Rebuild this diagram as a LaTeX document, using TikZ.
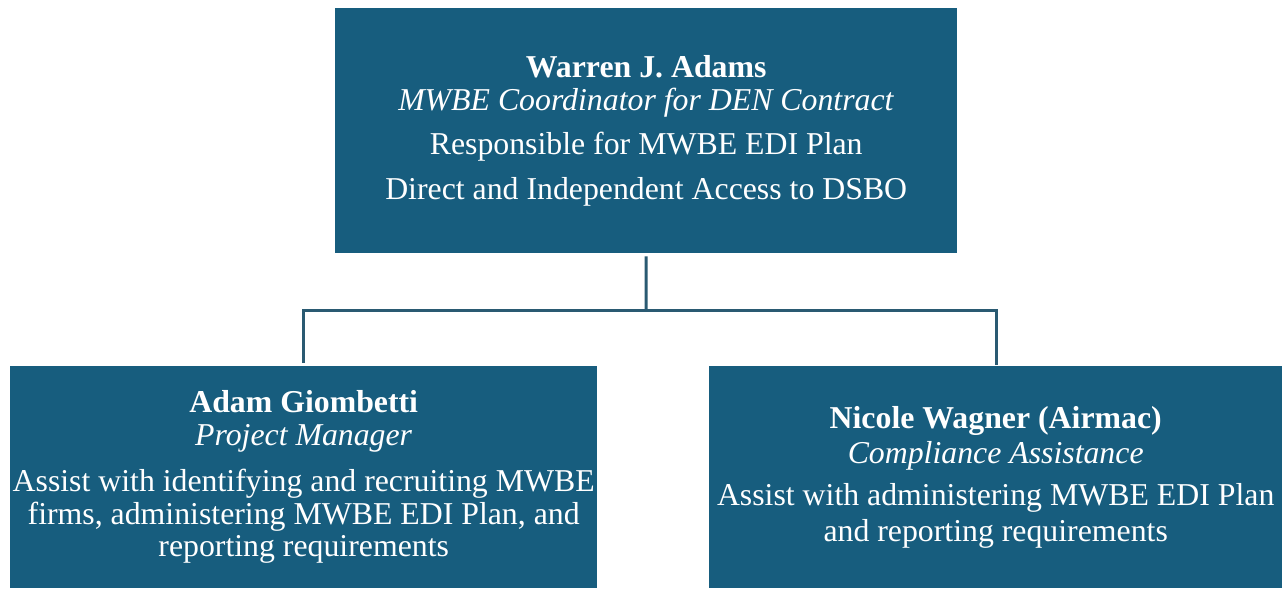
\documentclass[tikz,border=0pt]{standalone}
\usepackage{fontspec}
\setmainfont{Liberation Serif}
\definecolor{boxblue}{HTML}{175D7E}
\definecolor{linkblue}{HTML}{2A5A72}
\tikzset{
  orgbox/.style={fill=boxblue, draw=none, text=white, align=center, inner sep=0pt, anchor=north west,
    font=\fontsize{31.8}{32.5}\selectfont},
  link/.style={draw=linkblue, line width=3pt}
}
\begin{document}
\begin{tikzpicture}[x=1pt,y=-1pt]
\useasboundingbox (0,0) rectangle (1283,589);
\node[orgbox, minimum width=622pt, minimum height=245pt] (top) at (335,8)
  {\textbf{Warren J. Adams}\\ \textit{MWBE Coordinator for DEN Contract}\\[12pt]
   Responsible for MWBE EDI Plan\\[12pt] Direct and Independent Access to DSBO};
\node[orgbox, minimum width=587pt, minimum height=222pt] (left) at (10,366)
  {\textbf{Adam Giombetti}\\ \textit{Project Manager}\\[14pt]
   Assist with identifying and recruiting MWBE\\ firms, administering MWBE EDI Plan, and\\ reporting requirements};
\node[orgbox, minimum width=573pt, minimum height=222pt] (right) at (709,366)
  {\textbf{Nicole Wagner (Airmac)}\\[2pt] \textit{Compliance Assistance}\\[10pt]
   Assist with administering MWBE EDI Plan\\[3pt] and reporting requirements};
\coordinate (bus) at (646,310);
\draw[link] ([yshift=-3pt]top.south) -- (bus);
\draw[link] ([yshift=3pt]left.north -| 303,0) |- (bus) -| ([yshift=1pt]right.north -| 996,0);
\end{tikzpicture}
\end{document}
